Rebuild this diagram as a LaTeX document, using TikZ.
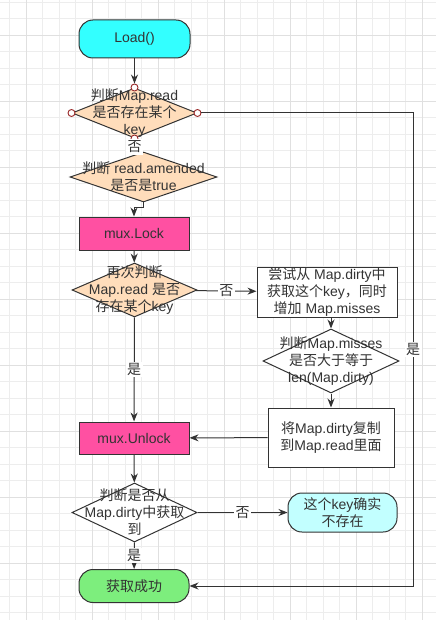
\documentclass[tikz,border=0pt]{standalone}
\usepackage{fontspec}
\setmainfont{Liberation Sans}
\newfontfamily\cjk{Noto Sans CJK SC}
\usetikzlibrary{shapes.geometric,arrows.meta}
\newcommand\zh[1]{{\cjk #1}}
\definecolor{loadc}{HTML}{33FFFF}
\definecolor{peach}{HTML}{FFDDBB}
\definecolor{lockc}{HTML}{FF50A2}
\definecolor{nokey}{HTML}{C2FFFF}
\definecolor{okc}{HTML}{7DEE7D}
\definecolor{pinc}{HTML}{9A2A2A}
\tikzset{
  txt/.style={font=\fontsize{14}{17}\selectfont, align=center, inner sep=0pt, text=black!80},
  base/.style={txt, draw=black!80, line width=1pt},
  term/.style={base, rounded corners=14pt},
  proc/.style={base, rectangle},
  dia/.style={base, diamond},
  line/.style={draw=black!80, line width=1pt},
  arr/.style={line, -{Stealth[length=9pt,width=7pt]}},
  lbl/.style={txt, fill=white, inner sep=1.5pt},
  pin/.style={circle, draw=pinc, fill=white, minimum size=7pt, inner sep=0pt, line width=0.9pt},
  minorgrid/.style={draw=black!7, line width=0.8pt},
  majorgrid/.style={draw=black!12, line width=0.8pt}
}
\begin{document}
\begin{tikzpicture}[x=1pt,y=-1pt]
\useasboundingbox (0,0) rectangle (436,620);
\fill[white] (0,0) rectangle (436,620);
\foreach \k in {0,...,26} \draw[minorgrid] ({9.8+16.5*\k},0) -- ({9.8+16.5*\k},620);
\foreach \k in {0,...,37} \draw[minorgrid] (0,{2.2+16.5*\k}) -- (436,{2.2+16.5*\k});
\foreach \k in {0,...,6} \draw[majorgrid] ({26.3+66*\k},0) -- ({26.3+66*\k},620);
\foreach \k in {0,...,8} \draw[majorgrid] (0,{35.2+66*\k}) -- (436,{35.2+66*\k});

\node[term, fill=loadc, minimum width=111pt, minimum height=38pt] (L) at (134.5,39) {Load()};
\node[dia, fill=peach, minimum width=125pt, minimum height=50pt] (A) at (134.5,113) {};
\node[txt] (At) at (A) {\zh{判断}Map.read\\\zh{是否存在某个}\\key};
\node[dia, fill=peach, minimum width=147pt, minimum height=50pt] (B) at (143.5,177) {};
\node[txt] (Bt) at (B) {\zh{判断} read.amended\\\zh{是否是}true};
\node[proc, fill=lockc, minimum width=110pt, minimum height=33pt] (K) at (134,233.5) {mux.Lock};
\node[dia, fill=peach, minimum width=125pt, minimum height=54pt] (C) at (134.5,290) {};
\node[txt] (Ct) at (C) {\zh{再次判断}\\Map.read \zh{是否}\\\zh{存在某个}key};
\node[proc, fill=white, minimum width=140pt, minimum height=50pt] (D) at (327,292) {\zh{尝试从} Map.dirty\zh{中}\\\zh{获取这个}key\zh{，同时}\\\zh{增加} Map.misses};
\node[dia, fill=white, minimum width=136pt, minimum height=64pt] (E) at (331,361) {};
\node[txt] (Et) at (E) {\zh{判断}Map.misses\\\zh{是否大于等于}\\len(Map.dirty)};
\node[proc, fill=white, minimum width=126pt, minimum height=59pt] (F) at (331,437.5) {\zh{将}Map.dirty\zh{复制}\\\zh{到}Map.read\zh{里面}};
\node[proc, fill=lockc, minimum width=110pt, minimum height=32pt] (U) at (134,438) {mux.Unlock};
\node[dia, fill=white, minimum width=125pt, minimum height=59pt] (G) at (134.5,512.5) {};
\node[txt] (Gt) at (G) {\zh{判断是否从}\\Map.dirty\zh{中获取}\\\zh{到}};
\node[term, fill=nokey, minimum width=109pt, minimum height=39pt] (H) at (342.5,512.5) {\zh{这个}key\zh{确实}\\\zh{不存在}};
\node[term, fill=okc, minimum width=110pt, minimum height=33pt] (I) at (134,586) {\zh{获取成功}};
\coordinate (R) at (413,113);
\foreach \p in {north,south,east,west} \node[pin] (A\p) at (A.\p) {};

\draw[arr] (L) -- (Anorth);
\draw[line] (Asouth) -- node[lbl] {\zh{否}} (A.south |- B.north);
\draw[arr] (B.south) -- ++(0,5) -| (K.north);
\draw[arr] (K) -- (C);
\draw[arr] (C) -- node[lbl] {\zh{否}} (D);
\draw[arr] (D.south -| E.north) -- (E.north);
\draw[arr] (E) -- (F);
\draw[arr] (F) -- (U);
\draw[arr] (C) -- node[lbl] {\zh{是}} (U);
\draw[arr] (U) -- (G);
\draw[arr] (G) -- node[lbl] {\zh{否}} (H);
\draw[arr] (G) -- node[lbl] {\zh{是}} (I);
\draw[arr] (Aeast) -- (R) -- node[lbl] {\zh{是}} (I.east -| R) -- (I.east);
\end{tikzpicture}
\end{document}
